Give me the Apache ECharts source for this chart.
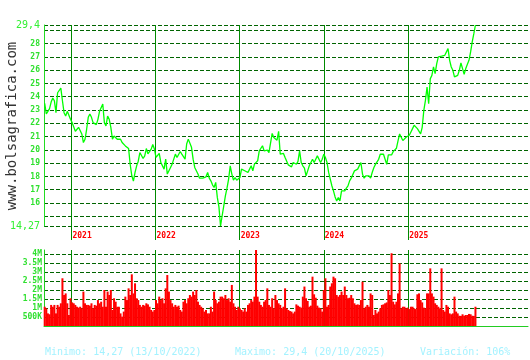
<!DOCTYPE html>
<html><head><meta charset="utf-8">
<script src="https://cdn.jsdelivr.net/npm/echarts@6/dist/echarts.min.js"></script>
<style>html,body{margin:0;padding:0;background:#fff}#c{width:530px;height:360px}</style>
</head><body><div id="c"></div>
<script>
// weekly closing prices (EUR), last point = 20/10/2025
const price = [
23.5, 22.7, 22.9, 23.1, 23.6, 23.9, 23.7, 22.8, 24.3, 24.45,
24.65, 23.7, 22.8, 22.55, 22.9, 23.05, 22.3, 22.05, 22.2, 21.4,
21.3, 21.7, 21.55, 21.2, 20.55, 20.8, 21.55, 22.45, 22.7, 22.45,
22.05, 22.2, 21.9, 22.3, 22.9, 23.05, 23.45, 22.05, 21.8, 22.55,
22.3, 21.7, 20.8, 21.05, 20.9, 20.8, 20.7, 20.8, 20.55, 20.4,
20.3, 20.4, 20.1, 18.9, 18.05, 17.65, 18.3, 18.8, 19.15, 19.8,
19.65, 19.35, 19.55, 20.1, 19.7, 19.6, 20.05, 20.4, 20.06, 19.43,
19.56, 19.73, 19.05, 19.18, 18.55, 19.3, 18.18, 18.43, 18.68, 18.93,
18.8, 19.68, 19.43, 19.56, 19.88, 19.68, 19.8, 19.3, 20.44, 20.81,
20.74, 20.19, 19.3, 18.68, 18.43, 18.18, 17.87, 17.8, 17.87, 17.77,
17.97, 18.3, 17.87, 17.67, 17.37, 17.17, 17.55, 16.42, 15.71, 14.27,
15.04, 15.79, 16.54, 17.12, 17.8, 18.8, 18.18, 17.72, 17.92, 17.72,
17.67, 17.92, 18.55, 18.68, 18.43, 18.38, 18.3, 18.55, 18.8, 18.43,
18.93, 18.98, 19.18, 19.93, 20.06, 20.31, 19.93, 19.8, 19.98, 19.8,
19.88, 21.24, 20.93, 21.06, 20.73, 21.39, 19.68, 19.55, 19.73, 19.43,
19.3, 18.87, 18.97, 18.72, 19.05, 19.18, 18.92, 19.13, 19.93, 19.05,
18.8, 18.62, 18.05, 18.42, 18.8, 18.92, 19.3, 19.05, 19.3, 19.55,
19.43, 19.05, 19.3, 19.68, 19.43, 19.05, 18.3, 17.8, 17.3, 16.91,
16.46, 16.16, 16.41, 16.16, 16.91, 17.04, 16.91, 17.12, 17.29, 17.67,
17.87, 17.8, 18.42, 18.37, 18.55, 18.47, 19.05, 18.17, 17.87, 18.05,
17.92, 18.05, 17.87, 18.3, 18.66, 18.91, 19.04, 19.29, 19.67, 19.54,
19.67, 19.54, 18.91, 19.62, 19.67, 19.62, 19.87, 19.8, 20.12, 20.67,
21.2, 21.2, 20.7, 20.6, 20.95, 20.95, 21.1, 21.35, 21.6, 21.85,
21.7, 21.6, 21.45, 21.2, 21.7, 22.97, 23.73, 24.73, 23.48, 25.36,
25.61, 26.24, 25.74, 26.49, 27.0, 27.0, 27.05, 27.0, 27.12, 27.25,
27.62, 26.74, 26.24, 25.99, 25.49, 25.49, 25.61, 25.99, 26.54, 26.12,
25.69, 26.12, 26.44, 26.74, 27.37, 28.13, 28.75, 29.4
];
// traded volume, millions of shares
const volume = [
1.07, 0.98, 0.70, 0.65, 1.17, 1.07, 1.17, 0.70, 1.17, 1.07,
1.26, 2.65, 1.72, 1.81, 1.26, 0.61, 1.54, 1.31, 1.26, 1.17,
1.07, 1.02, 1.07, 0.98, 1.91, 1.26, 1.17, 1.17, 1.13, 1.26,
0.98, 1.17, 1.13, 1.44, 1.26, 1.35, 1.07, 2.0, 1.07, 1.91,
1.72, 2.0, 0.89, 1.54, 1.35, 1.07, 1.07, 0.70, 0.52, 0.80,
1.63, 1.44, 2.09, 1.72, 2.87, 1.81, 2.37, 1.54, 1.44, 1.17,
1.07, 1.17, 1.13, 1.26, 1.20, 1.07, 0.89, 0.80, 0.89, 1.44,
1.26, 1.63, 1.44, 1.54, 1.26, 2.09, 2.83, 1.91, 1.44, 1.26,
1.07, 1.17, 1.07, 1.13, 0.89, 0.80, 1.35, 1.44, 1.26, 1.54,
1.72, 1.63, 1.91, 1.72, 2.0, 1.35, 1.17, 1.07, 0.98, 0.80,
0.89, 0.70, 0.70, 1.07, 0.80, 1.91, 1.44, 1.26, 1.35, 1.63,
1.63, 1.54, 1.72, 1.44, 1.54, 1.35, 2.28, 1.26, 1.07, 0.89,
1.07, 0.98, 0.89, 0.80, 0.98, 0.80, 1.17, 1.26, 1.44, 1.35,
1.63, 4.22, 1.63, 1.35, 1.17, 1.07, 1.35, 1.44, 2.09, 1.17,
1.07, 1.54, 0.98, 1.72, 1.44, 1.26, 1.17, 0.98, 1.07, 2.09,
0.98, 0.89, 0.83, 0.80, 0.70, 0.80, 1.20, 1.13, 1.07, 1.02,
1.63, 2.19, 1.54, 1.39, 1.07, 1.13, 2.74, 1.76, 1.57, 1.13,
1.02, 0.98, 0.80, 2.0, 2.65, 1.07, 1.17, 2.19, 2.37, 2.74,
2.65, 1.72, 1.63, 1.72, 1.91, 1.72, 2.19, 1.72, 1.54, 1.57,
1.72, 1.54, 1.26, 1.17, 1.20, 1.17, 1.44, 2.46, 0.98, 1.07,
1.17, 1.07, 1.81, 1.72, 0.61, 0.89, 0.70, 0.80, 0.98, 1.17,
1.20, 1.26, 1.31, 2.0, 1.72, 4.04, 1.35, 1.20, 1.35, 1.81,
3.48, 0.98, 1.07, 1.07, 0.98, 1.02, 0.94, 1.07, 1.07, 0.98,
0.94, 1.76, 1.81, 1.44, 1.31, 1.02, 0.98, 1.81, 1.81, 3.20,
1.81, 1.63, 1.26, 1.17, 1.07, 0.98, 3.20, 0.89, 0.80, 1.17,
1.07, 0.70, 0.65, 0.70, 1.63, 0.80, 0.70, 0.57, 0.56, 0.65,
0.57, 0.61, 0.61, 0.67, 0.65, 0.57, 0.56, 1.07
];
const lastDate = [2025, 9, 20];          // 20/10/2025
const stepDays = 7;                      // weekly samples
const years = [2021, 2022, 2023, 2024, 2025];
const priceTicks = [14.27, 15, 16, 17, 18, 19, 20, 21, 22, 23, 24, 25, 26, 27, 28, 29, 29.4];
const priceLabels = [14.27, 16, 17, 18, 19, 20, 21, 22, 23, 24, 25, 26, 27, 28, 29.4];
const volTicks = [0.5, 1, 1.5, 2, 2.5, 3, 3.5, 4];
const priceMin = 14.27, priceMax = 29.4, volMax = 4.22;
const xRange = [[2020, 8, 4], [2026, 5, 5]];
const site = 'www.bolsagrafica.com';
const footer = ['Minimo: 14,27 (13/10/2022)', 'Maximo: 29,4 (20/10/2025)', 'Variación: 106%'];

const DAY = 86400000;
const endTs = new Date(lastDate[0], lastDate[1], lastDate[2]).getTime();
const n = price.length;
const dates = price.map((_, i) => endTs - (n - 1 - i) * stepDays * DAY);
const yearTs = years.map(y => new Date(y, 0, 1).getTime());
const xMin = new Date(...xRange[0]).getTime();
const xMax = new Date(...xRange[1]).getTime();

const GRID_DASH = { color: '#006400', width: 1, type: [4, 2] };
const YEAR_LINE = { color: '#008a00', width: 1 };
const MONO = '"DejaVu Sans Mono", monospace';

const chart = echarts.init(document.getElementById('c'), null, { renderer: 'canvas' });
chart.setOption({
  animation: false,
  backgroundColor: '#ffffff',
  grid: [
    { left: 44, right: 2, top: 25, height: 201 },
    { left: 44, right: 2, top: 250, height: 76 }
  ],
  xAxis: [
    {
      type: 'value', gridIndex: 0, min: xMin, max: xMax, scale: true,
      axisLine: { show: false },
      axisTick: { show: true, customValues: yearTs, length: 14, inside: false, lineStyle: YEAR_LINE },
      axisLabel: {
        show: true, customValues: yearTs, hideOverlap: false,
        formatter: v => String(new Date(v).getFullYear()),
        color: '#ff0000', fontSize: 8, fontWeight: 'bold', fontFamily: MONO,
        align: 'left', margin: 6, padding: [0, 0, 0, 1]
      },
      splitLine: { show: true, lineStyle: YEAR_LINE }
    },
    {
      type: 'value', gridIndex: 1, min: xMin, max: xMax, scale: true,
      axisLine: { show: true, onZero: false, lineStyle: { color: '#22cc22', width: 1 } },
      axisTick: { show: false, customValues: yearTs },
      axisLabel: { show: false },
      splitLine: { show: true, lineStyle: YEAR_LINE }
    }
  ],
  yAxis: [
    {
      type: 'value', gridIndex: 0, min: priceMin, max: priceMax,
      axisLine: { show: true, lineStyle: { color: '#22dd22', width: 1 } },
      axisTick: { show: false, customValues: priceTicks },
      axisLabel: {
        customValues: priceLabels, margin: 4, hideOverlap: false,
        formatter: v => Number.isInteger(v) ? '{s|' + v + '}' : '{b|' + String(v).replace('.', ',') + '}',
        rich: {
          s: { fontSize: 8, fontWeight: 'bold', fontFamily: MONO, color: '#2ee02e' },
          b: { fontSize: 10, fontFamily: MONO, color: '#33f033' }
        }
      },
      splitLine: { show: true, lineStyle: GRID_DASH }
    },
    {
      type: 'value', gridIndex: 1, min: 0, max: volMax,
      axisLine: { show: true, lineStyle: { color: '#22cc22', width: 1 } },
      axisTick: { show: false, customValues: volTicks },
      axisLabel: {
        customValues: volTicks, margin: 2, hideOverlap: false,
        formatter: v => v >= 1 ? v + 'M' : Math.round(v * 1000) + 'K',
        fontSize: 8, fontWeight: 'bold', fontFamily: MONO, color: '#2ee02e'
      },
      splitLine: { show: true, lineStyle: GRID_DASH }
    }
  ],
  series: [
    {
      type: 'bar', xAxisIndex: 1, yAxisIndex: 1,
      data: dates.map((d, i) => [d, volume[i]]),
      barWidth: 2, itemStyle: { color: '#ff0000' }, silent: true
    },
    {
      type: 'line', xAxisIndex: 0, yAxisIndex: 0,
      data: dates.map((d, i) => [d, price[i]]),
      showSymbol: false, lineStyle: { color: '#00ff00', width: 1.3 },
      itemStyle: { color: '#00ff00' }, silent: true
    }
  ],
  graphic: [
    {
      type: 'text', x: 12, y: 126, rotation: Math.PI / 2,
      style: { text: site, fill: '#333333', font: '14px ' + MONO, align: 'center', verticalAlign: 'middle' }
    },
    { type: 'text', x: 45, y: 352, style: { text: footer[0], fill: '#a4f2ff', font: '10px ' + MONO, verticalAlign: 'middle' } },
    { type: 'text', x: 235, y: 352, style: { text: footer[1], fill: '#a4f2ff', font: '10px ' + MONO, verticalAlign: 'middle' } },
    { type: 'text', x: 420, y: 352, style: { text: footer[2], fill: '#a4f2ff', font: '10px ' + MONO, verticalAlign: 'middle' } }
  ]
});
</script>
</body></html>
